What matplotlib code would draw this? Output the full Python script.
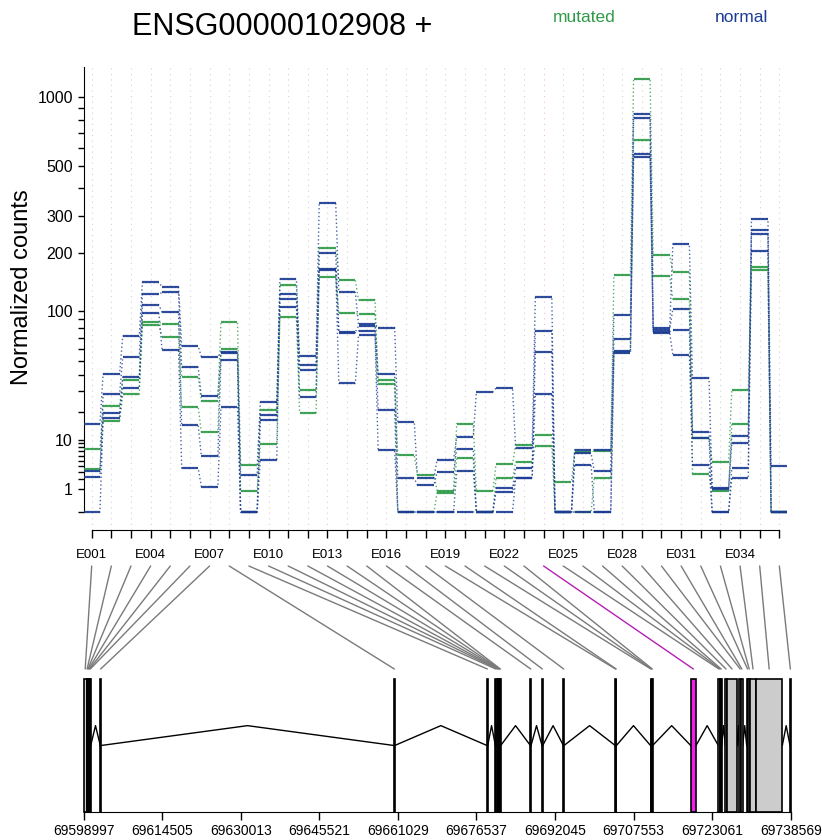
import numpy as np
import matplotlib
matplotlib.use("Agg")
import matplotlib.pyplot as plt
from matplotlib.patches import Rectangle, ConnectionPatch
from matplotlib.transforms import blended_transform_factory

plt.rcParams['font.family'] = ['Liberation Sans', 'DejaVu Sans']

# ---- data ----
exons = ['E%03d' % i for i in range(1, 37)]
sig_exon = 'E024'

mutated_1 = [7.6, 22.8, 36.4, 87, 84, 38.8, 25, 86.5, 4.1, 21, 137, 30.7, 210, 146, 115, 36.4,
             6.1, 2.6, 0.8, 15.3, 0.8, 4.3, 8.7, 11.4, 1.7, 6.9, 7.1, 155, 1190, 195, 160, 10.5,
             4.8, 30.7, 170, 0]
mutated_2 = [3.4, 16.3, 28.3, 83, 71, 22.3, 12.4, 59.9, 0.8, 8.8, 92, 19.6, 151, 97, 96, 34,
             0, 0, 0.7, 5.5, 0, 2.1, 4.7, 8.2, 0, 0, 2.1, 57, 650, 153, 116, 2.7,
             0.85, 15.2, 164, 0]
normal_1 = [15.3, 40.5, 71.5, 142, 135, 62.3, 53, 57, 2.5, 24.4, 148, 54, 343, 126, 84, 80.5,
            16, 2.2, 5.2, 11, 29.6, 31.8, 7.7, 119, 0, 7.4, 7.4, 95, 845, 80, 221, 37.8,
            1.1, 11.3, 290, 4.0]
normal_2 = [3.1, 28.3, 53, 123, 126, 45.3, 27.5, 56, 0, 18.5, 124, 47, 199, 76, 82, 40.3,
            2.1, 1.35, 3.0, 7.6, 0, 1.05, 3.6, 77, 0, 6.5, 3.1, 69, 810, 78, 103, 12.4,
            1.0, 9, 257, 0]
normal_3 = [2.3, 19.6, 38.8, 108, 98.5, 14.7, 6, 50.5, 0, 16.6, 116, 43, 167, 75, 77, 21,
            0, 0, 0, 3.1, 0, 0.75, 2.2, 57, 0, 4.2, 0, 58, 570, 76, 78, 10.5,
            0, 3.6, 247, 0]
normal_4 = [0, 17.3, 32, 97, 59, 3.6, 1.2, 21.9, 0, 5.2, 105, 27, 165, 34.5, 72.5, 7.4,
            0, 0, 0, 0, 0, 0, 2.2, 28.3, 0, 0, 0, 56, 550, 75, 54.5, 4.2,
            0, 2.1, 203, 0]

exon_start = [69598997, 69599589, 69599747, 69599905, 69600063, 69600221, 69602274, 69660257,
              69678617, 69680275, 69680591, 69680749, 69680906, 69681064, 69681183, 69687185,
              69689475, 69693700, 69703926, 69704064, 69710895, 69711033, 69711191, 69718831,
              69724280, 69724517, 69724734, 69725662, 69725940, 69728427, 69728763, 69729886,
              69730222, 69730538, 69731722, 69738435]
exon_end = [69599589, 69599747, 69599905, 69600063, 69600221, 69600379, 69602412, 69660395,
            69678755, 69680393, 69680749, 69680906, 69681064, 69681183, 69681321, 69687303,
            69689613, 69693818, 69704064, 69704163, 69711033, 69711191, 69711310, 69719878,
            69724517, 69724734, 69724951, 69725940, 69728032, 69728763, 69729097, 69730222,
            69730538, 69731722, 69736915, 69738569]

gene_ticks = [69598997, 69614505, 69630013, 69645521, 69661029,
              69676537, 69692045, 69707553, 69723061, 69738569]
y_major = [1, 10, 100, 200, 300, 500, 1000]
y_minor = [2, 3, 4, 5, 6, 7, 8, 9, 20, 30, 40, 50, 60, 70, 80, 90, 400, 600, 700, 800, 900]

green = '#2E9A48'
blue = '#1C3C94'

W, H = 822, 840
fig = plt.figure(figsize=(W / 100, H / 100), dpi=100)


def fx(px):
    return px / W


def fy(py):
    return 1 - py / H


# variance stabilising style y-scale
A = 0.012


def fwd(v):
    v = np.asarray(v, float)
    return np.sign(v) * np.arcsinh(np.sqrt(np.abs(v) * A))


def inv(t):
    t = np.asarray(t, float)
    return np.sign(t) * np.sinh(np.abs(t)) ** 2 / A


# ---- top panel: counts ----
ax = fig.add_axes([fx(84), fy(530), fx(787) - fx(84), fy(67) - fy(530)])
ax.set_yscale('function', functions=(fwd, inv))
ylo, yhi = float(inv(-0.0848)), float(inv(2.097))
ax.set_ylim(ylo, yhi)
ax.set_xlim(0.608, 36.39)

xpos = np.arange(1, len(exons) + 1)
for x, name in zip(xpos, exons):
    c = '#F3B6F0' if name == sig_exon else '#D2D2D2'
    ax.plot([x, x], [ylo, yhi], color=c, lw=0.8, ls=(0, (1, 4)), zorder=0)

h = 0.42
samples = [(mutated_1, green), (mutated_2, green),
           (normal_1, blue), (normal_2, blue), (normal_3, blue), (normal_4, blue)]
for vals, col in samples:
    xs = np.ravel(np.column_stack([xpos - h, xpos + h]))
    ys = np.repeat(vals, 2)
    ax.plot(xs, ys, color=col, lw=1.0, ls=(0, (1, 1.8)), alpha=0.8, zorder=2)
for vals, col in samples:
    ax.hlines(vals, xpos - h, xpos + h, color=col, lw=1.6, alpha=0.9, zorder=3)

for s in ['top', 'right']:
    ax.spines[s].set_visible(False)
ax.spines['left'].set_bounds(0, yhi)
ax.spines['bottom'].set_bounds(1, len(exons))
ax.set_yticks([0] + y_major)
ax.set_yticklabels([''] + [str(v) for v in y_major], fontsize=11.5)
ax.set_yticks(y_minor, minor=True)
ax.tick_params(axis='y', which='both', length=4, width=1, pad=4)
ax.set_xticks(xpos)
ax.set_xticklabels([e if i % 3 == 0 else '' for i, e in enumerate(exons)], fontsize=9.5)
ax.tick_params(axis='x', length=6, width=1, pad=8)

fig.text(fx(22), fy(287), 'Normalized counts', rotation=90, fontsize=17,
         ha='center', va='center')
fig.text(fx(282), fy(27), 'ENSG00000102908 +', fontsize=22, ha='center', va='center')
fig.text(fx(584), fy(17), 'mutated', color=green, fontsize=12.5, ha='center', va='center')
fig.text(fx(741), fy(17), 'normal', color=blue, fontsize=12.5, ha='center', va='center')

# ---- bottom panel: gene model ----
ax2 = fig.add_axes([fx(83.7), fy(811.7), fx(790.7) - fx(83.7), fy(679.3) - fy(811.7)])
ax2.set_xlim(gene_ticks[0], gene_ticks[-1])
ax2.set_ylim(0, 1)
for s in ['top', 'right', 'left']:
    ax2.spines[s].set_visible(False)
ax2.set_yticks([])
ax2.set_xticks(gene_ticks)
ax2.set_xticklabels([str(t) for t in gene_ticks], fontsize=10)
ax2.tick_params(axis='x', length=6, width=1, pad=2.5)

for i in range(len(exons) - 1):
    if exon_start[i + 1] > exon_end[i]:
        mid = (exon_end[i] + exon_start[i + 1]) / 2
        ax2.plot([exon_end[i], mid, exon_start[i + 1]], [0.5, 0.65, 0.5],
                 color='black', lw=1, clip_on=False, zorder=1)

for name, s, e in zip(exons, exon_start, exon_end):
    fc = '#F01DEC' if name == sig_exon else '#CCCCCC'
    ax2.add_patch(Rectangle((s, 0), e - s, 1, facecolor=fc, edgecolor='black',
                            lw=1.2, clip_on=False, zorder=2))

# lines linking exon bins to genomic positions
tA = blended_transform_factory(ax.transData, fig.transFigure)
tB = blended_transform_factory(ax2.transData, fig.transFigure)
for x, name, s, e in zip(xpos, exons, exon_start, exon_end):
    col = '#B41EB4' if name == sig_exon else '#7A7A7A'
    con = ConnectionPatch(xyA=(x, fy(566)), coordsA=tA, xyB=((s + e) / 2, fy(669)),
                          coordsB=tB, color=col, lw=1)
    fig.add_artist(con)

fig.savefig('out.png', dpi=100)
